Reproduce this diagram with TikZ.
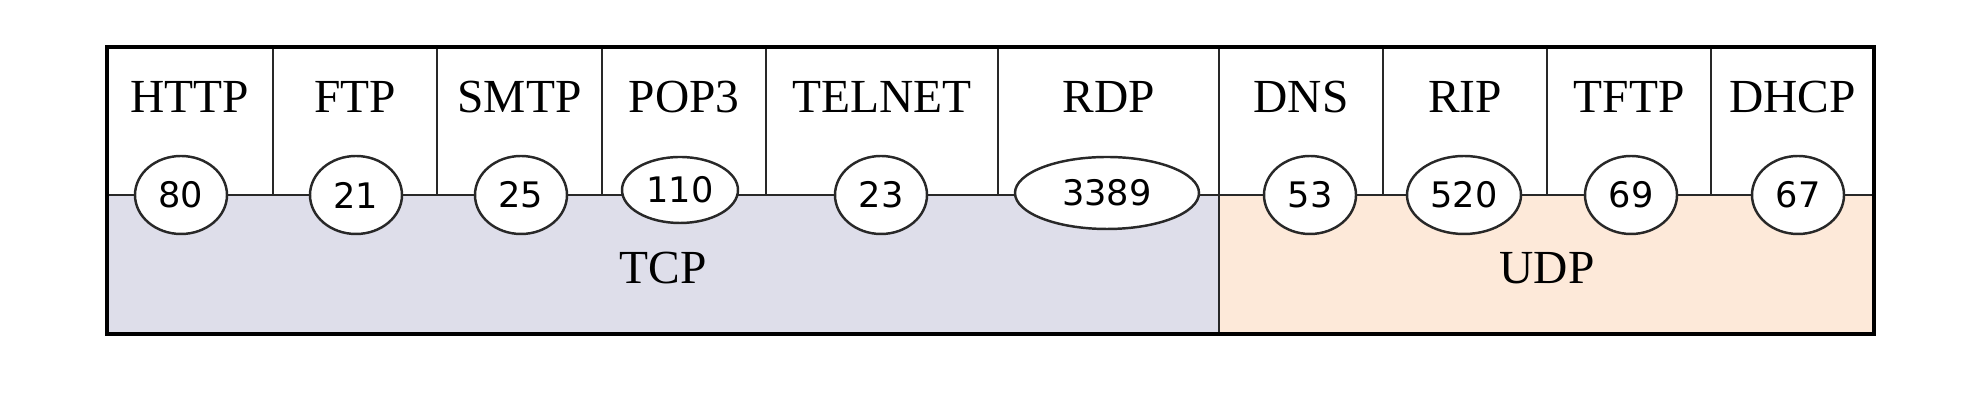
\documentclass[tikz,border=0pt]{standalone}
\usepackage{fontspec}
\setmainfont{Liberation Serif}
\newfontfamily\numfont{DejaVu Sans}
\usepackage{tikz}
\usetikzlibrary{shapes.geometric}
\definecolor{tcpfill}{RGB}{222,222,234}
\definecolor{udpfill}{RGB}{253,233,217}
\definecolor{gridgray}{RGB}{40,40,40}
\begin{document}
\begin{tikzpicture}[port node/.style={ellipse,draw=gridgray,line width=0.7pt,fill=white,inner sep=0pt,minimum width=0.92cm,minimum height=0.78cm,font=\numfont\fontsize{10}{11}\selectfont},proto node/.style={font=\fontsize{13.5}{16}\selectfont}]
  \useasboundingbox (0,0) rectangle (19.68,4.02);

  % Define corners of the table by coordinates
  \coordinate (NW) at (1.07,3.55);
  \coordinate (SE) at (18.74,0.68);
  \coordinate (divL) at (1.07,2.07);
  \coordinate (divM) at (12.19,2.07);
  \coordinate (divR) at (18.74,2.07);

  % Transport layer backgrounds
  \fill[tcpfill] (1.07,0.68) rectangle (divM);
  \fill[udpfill] (12.19,0.68) rectangle (divR);

  % Grid lines
  \draw[gridgray,line width=0.6pt] (divL) -- (divR);
  \foreach \x in {2.73,4.37,6.02,7.66,9.98,13.83,15.47,17.11}
    \draw[gridgray,line width=0.6pt] (\x,3.55) -- (\x,2.07);
  \draw[gridgray,line width=0.7pt] (12.19,3.55) -- (12.19,0.68);
  \draw[line width=1.2pt] (NW) rectangle (SE);

  % Application protocols
  \node[proto node] (HTTP) at (1.90,3.05) {HTTP};
  \node[proto node] (FTP) at (3.55,3.05) {FTP};
  \node[proto node] (SMTP) at (5.195,3.05) {SMTP};
  \node[proto node] (POP3) at (6.84,3.05) {POP3};
  \node[proto node] (TELNET) at (8.82,3.05) {TELNET};
  \node[proto node] (RDP) at (11.085,3.05) {RDP};
  \node[proto node] (DNS) at (13.01,3.05) {DNS};
  \node[proto node] (RIP) at (14.65,3.05) {RIP};
  \node[proto node] (TFTP) at (16.29,3.05) {TFTP};
  \node[proto node] (DHCP) at (17.925,3.05) {DHCP};

  % Port numbers
  \node[port node] (p80) at (1.81,2.07) {80};
  \node[port node] (p21) at (3.56,2.07) {21};
  \node[port node] (p25) at (5.21,2.07) {25};
  \node[port node,minimum width=1.16cm,minimum height=0.66cm] (p110) at (6.80,2.12) {110};
  \node[port node] (p23) at (8.81,2.07) {23};
  \node[port node,minimum width=1.84cm,minimum height=0.72cm] (p3389) at (11.07,2.09) {3389};
  \node[port node] (p53) at (13.10,2.07) {53};
  \node[port node,minimum width=1.14cm] (p520) at (14.64,2.07) {520};
  \node[port node] (p69) at (16.31,2.07) {69};
  \node[port node] (p67) at (17.98,2.07) {67};

  % Transport protocols
  \node[proto node] (TCP) at (6.63,1.34) {TCP};
  \node[proto node] (UDP) at (15.47,1.34) {UDP};
\end{tikzpicture}
\end{document}
